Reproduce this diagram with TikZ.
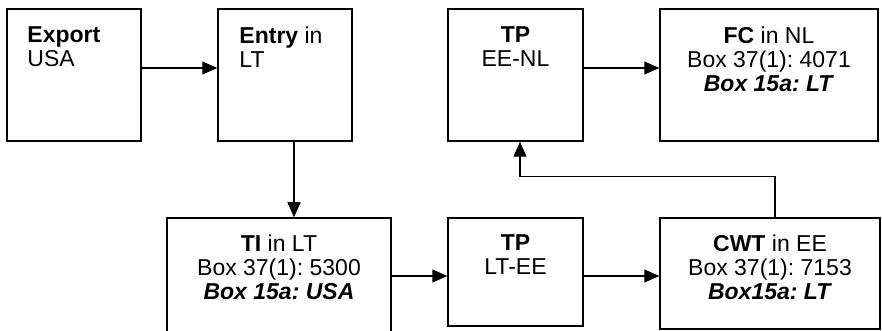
\documentclass[tikz,border=0pt]{standalone}
\usepackage{fontspec}
\setmainfont{Liberation Sans}
\usetikzlibrary{arrows.meta}
\frenchspacing
\tikzset{
  box/.style={draw, line width=1.5pt, inner sep=0pt},
  txt/.style={inner sep=0pt, align=center, font=\fontsize{23}{24}\selectfont},
  link/.style={line width=1.3pt, -{Triangle[length=15pt,width=13pt]}},
}
\begin{document}
\begin{tikzpicture}[x=1pt,y=1pt]
      \useasboundingbox (0,0) rectangle (882,331);
      \node[box, minimum width=134pt, minimum height=132pt] (exp) at (74,256) {};
      \node[box, minimum width=134pt, minimum height=132pt] (ent) at (285,256) {};
      \node[box, minimum width=135pt, minimum height=132pt] (tpnl) at (515.5,256) {};
      \node[box, minimum width=218pt, minimum height=132pt] (fc) at (769,256) {};
      \node[box, minimum width=224pt, minimum height=128pt] (ti) at (279,49) {};
      \node[box, minimum width=135pt, minimum height=108pt] (tpee) at (515.5,59) {};
      \node[box, minimum width=220pt, minimum height=111pt] (cwt) at (770,57.5) {};
      \node[txt, align=left, anchor=north west] (expt) at ([xshift=21pt,yshift=-18pt]exp.north west)
        {\textbf{Export}\\USA};
      \node[txt, align=left, anchor=north west] (entt) at ([xshift=22pt,yshift=-18pt]ent.north west)
        {\textbf{Entry} in\\LT};
      \node[txt, anchor=north] (tpnlt) at ([yshift=-18pt]tpnl.north)
        {\textbf{TP}\\EE-NL};
      \node[txt, anchor=north] (fct) at ([yshift=-18pt]fc.north)
        {\textbf{FC} in NL\\Box 37(1): 4071\\\textbf{\textit{Box 15a: LT}}};
      \node[txt, anchor=north] (tit) at ([yshift=-17pt]ti.north)
        {\textbf{TI} in LT\\Box 37(1): 5300\\\textbf{\textit{Box 15a: USA}}};
      \node[txt, anchor=north] (tpeet) at ([yshift=-17pt]tpee.north)
        {\textbf{TP}\\LT-EE};
      \node[txt, anchor=north] (cwtt) at ([yshift=-17pt]cwt.north)
        {\textbf{CWT} in EE\\Box 37(1): 7153\\\textbf{\textit{Box15a: LT}}};
      \begin{scope}[link]
        \draw ([yshift=7pt]exp.east) to ([yshift=7pt]ent.west);
        \draw ([yshift=7pt]tpnl.east) to ([yshift=7pt]fc.west);
        \draw ([xshift=9pt]ent.south) to ([xshift=15pt]ti.north);
        \draw ([yshift=6pt]ti.east) to ([yshift=6pt]ti.east -| tpee.west);
        \draw ([yshift=-4pt]tpee.east) to ([yshift=-4pt]tpee.east -| cwt.west);
        \draw ([xshift=5pt]cwt.north) -- ++(0,41) -| ([xshift=4.5pt]tpnl.south);
      \end{scope}
    \end{tikzpicture}
\end{document}
